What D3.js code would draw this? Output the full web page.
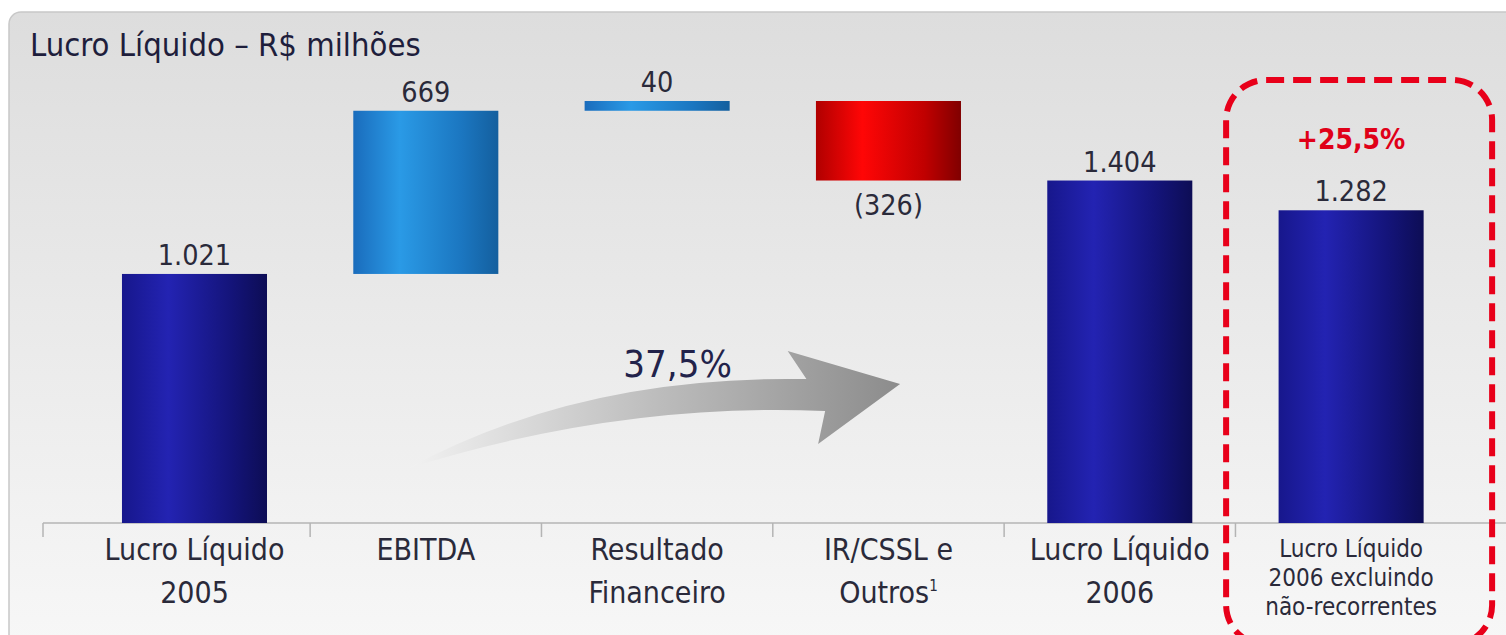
<!DOCTYPE html>
<html>
<head>
<meta charset="utf-8">
<script src="https://cdn.jsdelivr.net/npm/d3@7"></script>
<style>
  html, body { margin: 0; padding: 0; background: #ffffff; }
  svg { display: block; }
  text { font-family: "DejaVu Sans Condensed", "DejaVu Sans", sans-serif; font-stretch: condensed; }
</style>
</head>
<body>
<svg id="chart" width="1506" height="635"></svg>
<script>
// ---- data ----
const titleText = "Lucro Líquido – R$ milhões";
const categories = ["LL2005", "EBITDA", "ResFin", "IR", "LL2006", "LL2006rec"];
const categoryLines = [
  ["Lucro Líquido", "2005"],
  ["EBITDA"],
  ["Resultado", "Financeiro"],
  ["IR/CSSL e", "Outros"],
  ["Lucro Líquido", "2006"],
  ["Lucro Líquido", "2006 excluindo", "não-recorrentes"]
];
const values = [1021, 669, 40, -326, 1404, 1282];
const kinds = ["total", "delta", "delta", "delta", "total", "total"];
const valueLabels = ["1.021", "669", "40", "(326)", "1.404", "1.282"];
const growthLabel = "37,5%";
const recurringGrowthLabel = "+25,5%";

// ---- layout ----
const W = 1506, H = 635;
const svg = d3.select("#chart");
const defs = svg.append("defs");

const baseY = 523;
const x = d3.scaleBand().domain(categories).range([41, 1504.6]).paddingInner(0.373).paddingOuter(0.35);
const bw = x.bandwidth();
const step = x.step();

// waterfall computation
let running = 0;
const bars = values.map((v, i) => {
  let lo, hi;
  if (kinds[i] === "total") { lo = 0; hi = v; running = v; }
  else { lo = running; hi = running + v; running = hi; }
  return { cat: categories[i], v, lo: Math.min(lo, hi), hi: Math.max(lo, hi), kind: kinds[i], label: valueLabels[i], i };
});
const maxTop = d3.max(bars, d => d.hi);
const y = d3.scaleLinear().domain([0, maxTop]).range([baseY, 101]);

// ---- gradients ----
function hGrad(id, stops) {
  const g = defs.append("linearGradient").attr("id", id).attr("x1", 0).attr("x2", 1).attr("y1", 0).attr("y2", 0);
  stops.forEach(s => g.append("stop").attr("offset", s[0]).attr("stop-color", s[1]));
}
hGrad("gNavy", [[0, "#17178c"], [0.32, "#2323b2"], [0.75, "#14147a"], [1, "#0d0d55"]]);
hGrad("gBlue", [[0, "#1a6cbc"], [0.32, "#2a9ae6"], [0.75, "#1b76c0"], [1, "#145f9e"]]);
hGrad("gRed", [[0, "#b00000"], [0.32, "#ff0606"], [0.75, "#c00000"], [1, "#800000"]]);
const pg = defs.append("linearGradient").attr("id", "gPanel").attr("x1", 0).attr("x2", 0).attr("y1", 0).attr("y2", 1);
pg.append("stop").attr("offset", 0).attr("stop-color", "#dddddd");
pg.append("stop").attr("offset", 1).attr("stop-color", "#f8f8f8");
const ag = defs.append("linearGradient").attr("id", "gArrow").attr("x1", 0).attr("x2", 1).attr("y1", 0).attr("y2", 0);
ag.append("stop").attr("offset", 0).attr("stop-color", "#f2f2f2");
ag.append("stop").attr("offset", 0.5).attr("stop-color", "#bdbdbd");
ag.append("stop").attr("offset", 1).attr("stop-color", "#8c8c8c");

// ---- panel ----
svg.append("rect").attr("x", 9).attr("y", 12).attr("width", W + 20).attr("height", H + 20)
  .attr("rx", 12).attr("fill", "url(#gPanel)").attr("stroke", "#c8c8c8").attr("stroke-width", 1.5);

svg.append("text").attr("x", 30).attr("y", 56).attr("font-size", 32.5).attr("fill", "#1e1e3c").text(titleText);

// ---- axis ----
const axisG = svg.append("g");
axisG.append("line").attr("x1", 43).attr("x2", W).attr("y1", baseY).attr("y2", baseY)
  .attr("stroke", "#b4b4b4").attr("stroke-width", 1.5);
const tickXs = [43].concat(categories.slice(1).map(c => x(c) - (step - bw) / 2));
axisG.selectAll("line.tick").data(tickXs).join("line").attr("class", "tick")
  .attr("x1", d => d).attr("x2", d => d).attr("y1", baseY).attr("y2", baseY + 14)
  .attr("stroke", "#b4b4b4").attr("stroke-width", 1.5);

// ---- arrow (growth annotation) ----
const c0 = x(categories[0]) + bw / 2;
const P = (u, v) => [c0 + u * 234.2 * (u > 0 ? 1 : 1) + 3, y(v)];
const ap = d3.path();
let p;
p = P(0.90, 225); ap.moveTo(p[0], p[1]);
let cp = P(1.635, 607); p = P(2.60, 590); ap.quadraticCurveTo(cp[0], cp[1], p[0], p[1]);
p = P(2.52, 705); ap.lineTo(p[0], p[1]);
p = P(3.0, 570); ap.lineTo(p[0], p[1]);
p = P(2.65, 324); ap.lineTo(p[0], p[1]);
p = P(2.68, 459); ap.lineTo(p[0], p[1]);
cp = P(1.806, 496); p = P(0.90, 225); ap.quadraticCurveTo(cp[0], cp[1], p[0], p[1]);
ap.closePath();
svg.append("path").attr("d", ap.toString()).attr("fill", "url(#gArrow)");
const tp = P(2.05, 600);
svg.append("text").attr("x", tp[0]).attr("y", tp[1]).attr("text-anchor", "middle")
  .attr("font-size", 38).attr("fill", "#22224a").text(growthLabel);

// ---- bars ----
const fillFor = d => d.kind === "total" ? "url(#gNavy)" : (d.v < 0 ? "url(#gRed)" : "url(#gBlue)");
svg.append("g").selectAll("rect").data(bars).join("rect")
  .attr("x", d => x(d.cat)).attr("width", bw)
  .attr("y", d => y(d.hi)).attr("height", d => y(d.lo) - y(d.hi))
  .attr("fill", fillFor);

// value labels
svg.append("g").selectAll("text").data(bars).join("text")
  .attr("x", d => x(d.cat) + bw / 2)
  .attr("y", d => d.v < 0 ? y(d.lo) + 34 : y(d.hi) - 9)
  .attr("text-anchor", "middle").attr("font-size", 28.5).attr("fill", "#2a2a3a")
  .text(d => d.label);

// category labels
const catG = svg.append("g");
categoryLines.forEach((lines, i) => {
  const last = i === categoryLines.length - 1;
  const fs = last ? 24 : 30;
  const lh = last ? 29 : 43;
  const y0 = last ? 557 : 560;
  const t = catG.append("text").attr("text-anchor", "middle").attr("font-size", fs).attr("fill", "#2a2a3a");
  lines.forEach((ln, k) => {
    const ts = t.append("tspan").attr("x", x(categories[i]) + bw / 2).attr("y", y0 + k * lh).text(ln);
    if (i === 3 && k === 1) ts.append("tspan").attr("font-size", 15).attr("dy", -12).text("1");
  });
});

// ---- highlight box ----
const lastCat = categories[categories.length - 1];
const bcx = x(lastCat) + bw / 2 + 8;
const bx0 = bcx - 133, bx1 = bcx + 133;
const by0 = y(maxTop) - 21;
svg.append("rect").attr("x", bx0).attr("y", by0).attr("width", bx1 - bx0).attr("height", H - by0 + 10)
  .attr("rx", 40).attr("fill", "none").attr("stroke", "#e8001a").attr("stroke-width", 6)
  .attr("stroke-dasharray", "18,9");
svg.append("text").attr("x", x(lastCat) + bw / 2).attr("y", y(maxTop) + 48).attr("text-anchor", "middle")
  .attr("font-size", 28).attr("font-weight", "bold").attr("fill", "#e00018").text(recurringGrowthLabel);
</script>
</body>
</html>
